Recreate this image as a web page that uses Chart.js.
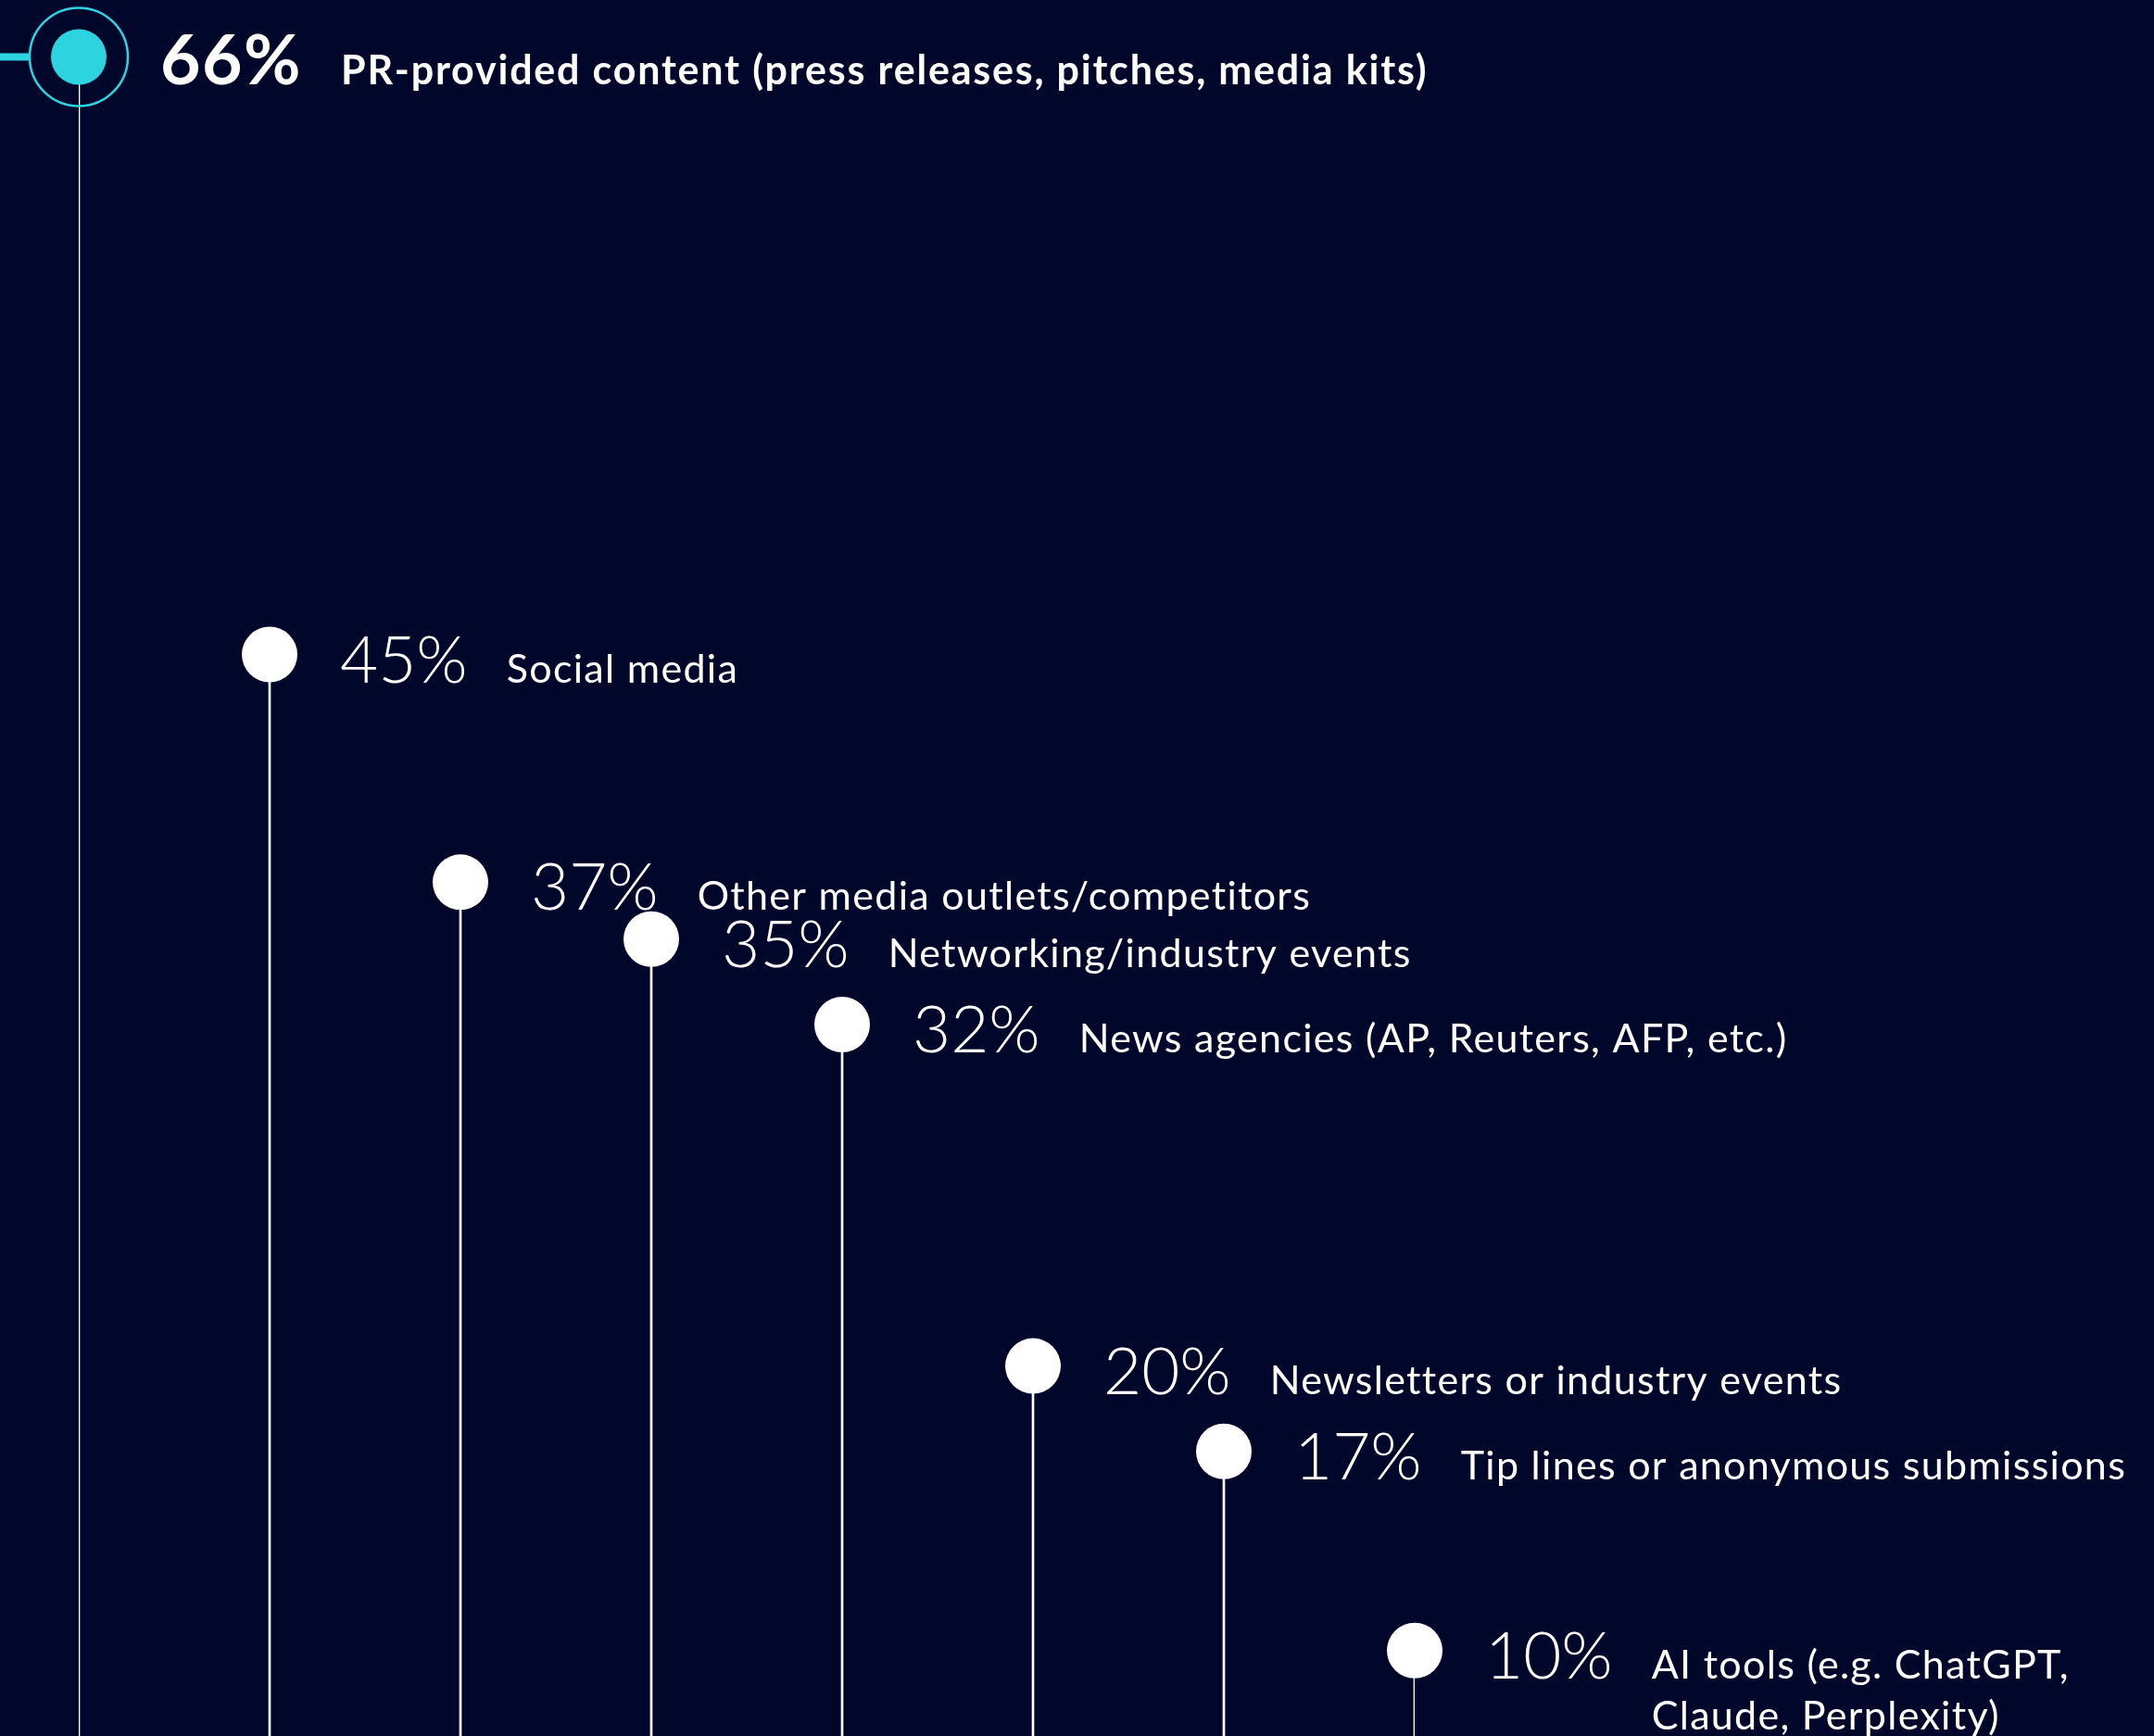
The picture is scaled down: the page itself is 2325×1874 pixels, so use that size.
<!DOCTYPE html>
<html>
<head>
<meta charset="utf-8">
<title>Where journalists find their stories</title>
<script src="https://cdn.jsdelivr.net/npm/chart.js@4.4.1/dist/chart.umd.min.js"></script>
<style>
  html, body { margin: 0; padding: 0; background: #01072a; }
  #wrap { width: 2325px; height: 1874px; position: relative; overflow: hidden; }
  canvas { display: block; }
</style>
</head>
<body>
<div id="wrap"><canvas id="sources" width="2325" height="1874"></canvas></div>
<script>
// Story sources, in order of share
const sources = [
  'PR-provided content (press releases, pitches, media kits)',
  'Social media',
  'Other media outlets/competitors',
  'Networking/industry events',
  'News agencies (AP, Reuters, AFP, etc.)',
  'Newsletters or industry events',
  'Tip lines or anonymous submissions',
  ['AI tools (e.g. ChatGPT,', 'Claude, Perplexity)']
];
// Share of respondents, percent
const shares = [66, 45, 37, 35, 32, 20, 17, 10];

const NAVY = '#01072a';
const CYAN = '#2dd4e0';
const WHITE = '#ffffff';
const FAMILY = 'Lato, "Open Sans", "Noto Sans", sans-serif';

const DOT_R = 30;     // lollipop head radius
const RING_R = 53;    // halo around the leading source

function setSpacing(ctx, px) {
  if ('letterSpacing' in ctx) ctx.letterSpacing = px + 'px';
}

// Halo, connector and text labels for each lollipop
const lollipopLabels = {
  id: 'lollipopLabels',
  afterDatasetsDraw(chart) {
    const ctx = chart.ctx;
    const meta = chart.getDatasetMeta(1);
    ctx.save();
    meta.data.forEach((pt, i) => {
      const { x, y } = pt.getProps(['x', 'y'], true);
      const lead = i === 0;
      if (lead) {
        ctx.strokeStyle = CYAN;
        ctx.lineWidth = 2.5;
        ctx.beginPath();
        ctx.arc(x, y, RING_R, 0, Math.PI * 2);
        ctx.stroke();
        ctx.fillStyle = CYAN;
        ctx.fillRect(0, y - 4, x - RING_R, 8);
      }
      const pctText = shares[i] + '%';
      const baseY = y + 30;
      let tx = x + (lead ? RING_R + 35 : DOT_R + 46);
      ctx.fillStyle = WHITE;
      ctx.textBaseline = 'alphabetic';
      ctx.textAlign = 'left';
      ctx.font = lead ? '700 75px ' + FAMILY : '300 71px ' + FAMILY;
      setSpacing(ctx, lead ? 1.5 : 0);
      ctx.fillText(pctText, tx, baseY);
      tx += ctx.measureText(pctText).width + 42;
      ctx.font = (lead ? '700 ' : '400 ') + '43px ' + FAMILY;
      setSpacing(ctx, lead ? 1.8 : 1.3);
      const lines = Array.isArray(sources[i]) ? sources[i] : [sources[i]];
      lines.forEach((ln, k) => ctx.fillText(ln, tx, baseY + k * 55));
    });
    ctx.restore();
  }
};

function draw() {
  new Chart(document.getElementById('sources'), {
    data: {
      labels: sources,
      datasets: [
        {
          type: 'bar',
          data: shares,
          backgroundColor: WHITE,
          barThickness: 2,
          borderWidth: 0,
          order: 2
        },
        {
          type: 'line',
          data: shares,
          showLine: false,
          pointRadius: DOT_R,
          pointHoverRadius: DOT_R,
          pointBorderWidth: 0,
          pointBackgroundColor: shares.map((_, i) => i === 0 ? CYAN : WHITE),
          clip: false,
          order: 1
        }
      ]
    },
    options: {
      responsive: false,
      devicePixelRatio: 1,
      animation: false,
      layout: { autoPadding: false, padding: { left: 85, right: 798, top: 0, bottom: 0 } },
      plugins: { legend: { display: false }, tooltip: { enabled: false } },
      scales: {
        x: { type: 'category', offset: false, display: false, grid: { display: false } },
        y: { type: 'linear', min: 7, max: 68, display: false, grid: { display: false } }
      }
    },
    plugins: [lollipopLabels]
  });
}

const fontLoads = ['300 71px Lato', '700 75px Lato', '400 43px Lato', '700 43px Lato']
  .map(f => document.fonts.load(f).catch(() => null));
Promise.all(fontLoads).then(draw, draw);
</script>
</body>
</html>
